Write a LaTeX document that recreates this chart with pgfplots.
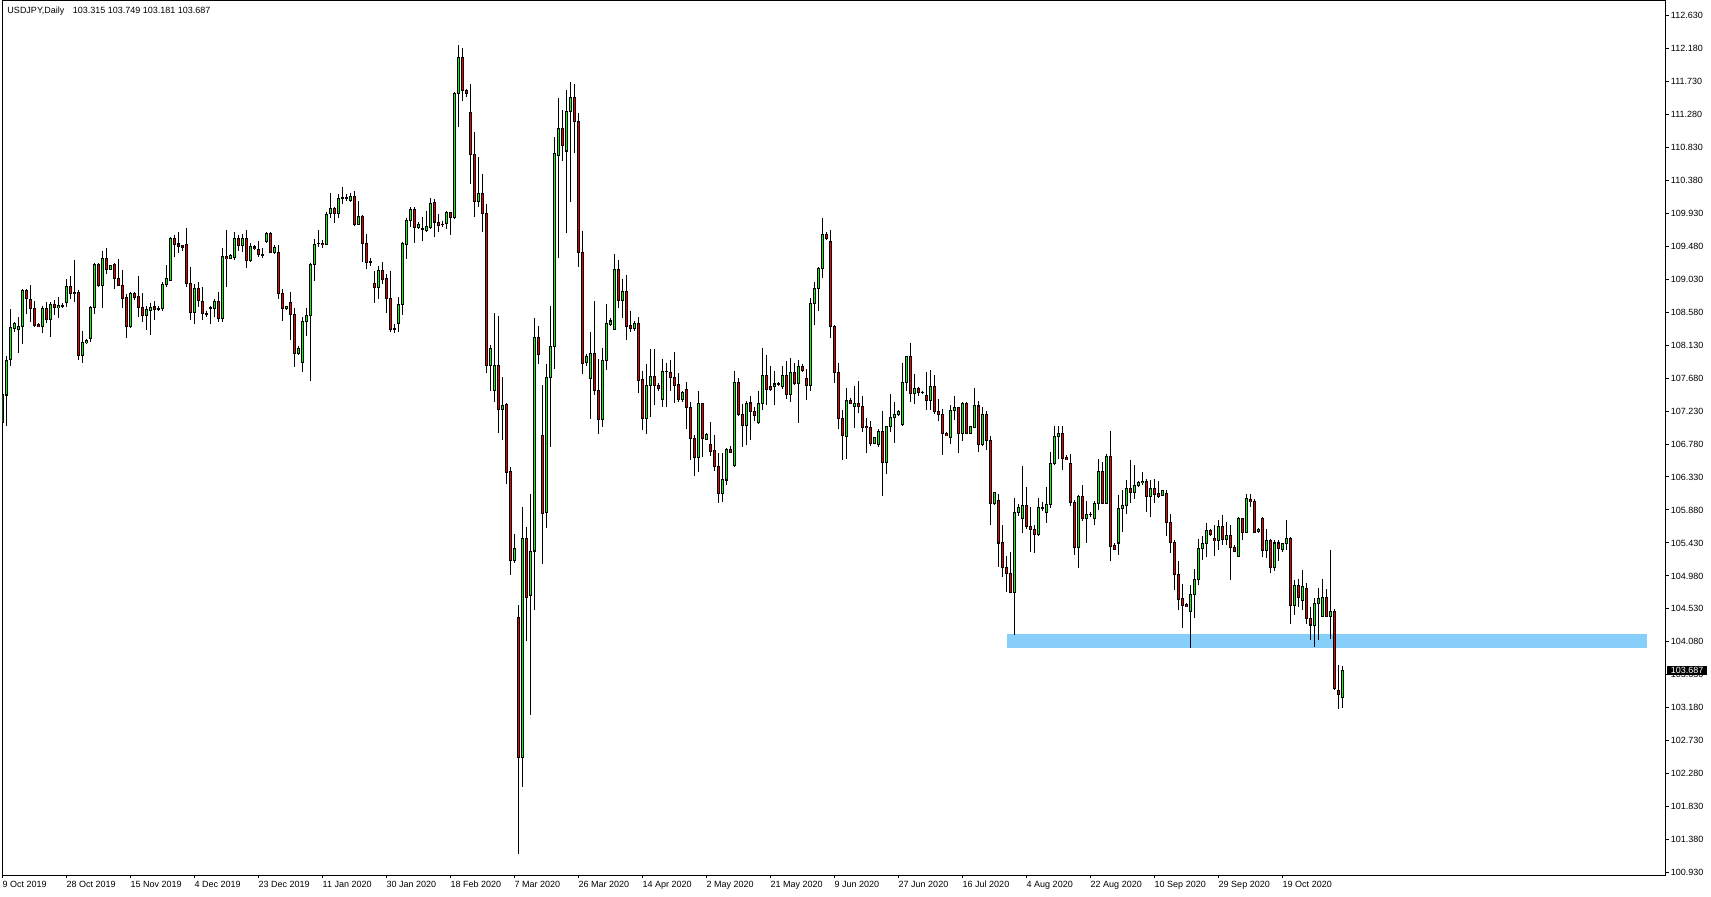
\documentclass[border=0pt]{standalone}
\usepackage{pgfplots}
\pgfplotsset{compat=1.18}
\usepackage{pgfplotstable}
\usepackage{fontspec}
\setmainfont{Liberation Sans}
\definecolor{bull}{RGB}{0,255,0}
\definecolor{bear}{RGB}{235,0,0}
\definecolor{zone}{RGB}{135,206,250}
\newcommand\mtfont{\fontsize{9bp}{10bp}\selectfont}

\pgfplotstableread{
o h l c
107.08 107.63 106.93 107.45
107.45 107.98 107.03 107.92
107.93 108.63 107.84 108.37
108.36 108.45 108.31 108.42
108.34 108.52 108.02 108.39
108.39 108.90 108.14 108.88
108.88 108.89 108.56 108.76
108.76 108.95 108.44 108.63
108.63 108.73 108.38 108.40
108.41 108.43 108.38 108.38
108.39 108.66 108.29 108.63
108.63 108.72 108.43 108.48
108.48 108.72 108.24 108.69
108.69 108.74 108.54 108.64
108.64 108.78 108.50 108.67
108.67 108.70 108.64 108.67
108.71 109.04 108.65 108.93
108.93 109.07 108.76 108.83
108.85 109.29 108.72 108.83
108.85 108.88 107.93 107.99
107.99 108.33 107.89 108.16
108.17 108.22 108.14 108.19
108.22 108.66 108.17 108.64
108.64 109.25 108.55 109.23
109.23 109.25 108.92 108.94
108.94 109.42 108.64 109.31
109.31 109.45 109.10 109.16
109.16 109.23 109.15 109.22
109.23 109.25 108.90 109.04
109.04 109.30 108.95 108.95
108.95 109.15 108.63 108.77
108.78 108.83 108.23 108.38
108.38 108.85 108.37 108.83
108.83 108.85 108.75 108.78
108.79 109.07 108.51 108.64
108.64 108.84 108.44 108.53
108.53 108.67 108.34 108.61
108.61 108.70 108.27 108.65
108.65 108.73 108.48 108.62
108.63 108.66 108.60 108.63
108.63 108.99 108.59 108.96
108.96 109.22 108.92 109.04
109.01 109.61 109.00 109.58
109.58 109.63 109.33 109.51
109.51 109.67 109.39 109.47
109.49 109.50 109.42 109.47
109.51 109.73 108.92 108.97
108.97 109.20 108.47 108.57
108.57 108.97 108.42 108.91
108.91 108.99 108.65 108.74
108.73 108.93 108.48 108.56
108.56 108.60 108.51 108.56
108.64 108.67 108.42 108.64
108.63 108.76 108.51 108.73
108.73 108.86 108.44 108.50
108.50 109.45 108.44 109.34
109.34 109.70 108.92 109.31
109.31 109.37 109.30 109.36
109.32 109.68 109.29 109.58
109.58 109.64 109.42 109.49
109.49 109.64 109.40 109.58
109.58 109.70 109.19 109.29
109.29 109.52 109.26 109.47
109.47 109.50 109.43 109.45
109.43 109.55 109.34 109.37
109.36 109.45 109.32 109.36
109.55 109.68 109.52 109.66
109.66 109.67 109.39 109.40
109.40 109.49 109.38 109.46
109.39 109.49 108.76 108.83
108.83 108.90 108.46 108.63
108.63 108.67 108.61 108.66
108.71 108.86 108.20 108.55
108.55 108.64 107.83 108.01
108.01 108.12 108.00 108.09
107.89 108.51 107.76 108.45
108.45 108.63 108.25 108.53
108.53 109.25 107.64 109.23
109.23 109.58 109.00 109.51
109.52 109.70 109.47 109.52
109.52 109.56 109.46 109.50
109.51 109.95 109.49 109.92
109.92 110.21 109.86 109.99
109.99 110.01 109.79 109.92
109.92 110.19 109.86 110.13
110.14 110.29 110.05 110.14
110.14 110.20 110.10 110.14
110.10 110.21 110.09 110.16
110.16 110.23 109.76 109.78
109.78 110.10 109.77 109.88
109.88 109.90 109.27 109.52
109.52 109.65 109.17 109.26
109.26 109.32 109.21 109.27
108.97 109.14 108.71 108.92
108.92 109.21 108.76 109.15
109.15 109.27 108.97 109.03
109.04 109.10 108.57 108.77
108.77 109.14 108.31 108.35
108.35 108.42 108.30 108.35
108.43 108.79 108.31 108.68
108.68 109.54 108.54 109.52
109.50 109.87 109.30 109.83
109.83 110.01 109.74 109.98
109.98 110.01 109.52 109.74
109.74 109.81 109.71 109.78
109.72 109.88 109.55 109.72
109.69 109.96 109.67 109.75
109.74 110.14 109.71 110.07
110.07 110.12 109.61 109.81
109.81 109.92 109.68 109.77
109.78 109.82 109.74 109.78
109.79 109.96 109.72 109.94
109.94 109.95 109.63 109.87
109.87 111.58 109.85 111.57
111.57 112.23 111.11 112.06
112.06 112.18 111.46 111.60
111.60 111.62 111.51 111.56
111.31 111.69 110.33 110.73
110.73 111.04 109.88 110.09
110.09 110.70 110.01 110.20
110.20 110.47 109.68 109.93
109.93 110.06 107.75 107.85
107.85 108.13 107.51 108.08
107.51 108.57 107.36 107.85
107.85 108.53 106.93 107.25
107.25 107.69 106.83 107.31
107.32 107.34 106.23 106.39
106.40 106.47 105.00 105.19
105.19 105.55 105.15 105.35
104.42 104.58 101.18 102.50
102.50 105.92 102.10 105.49
105.49 105.65 104.09 104.69
104.71 106.10 103.08 105.32
105.32 108.50 104.52 108.23
108.23 108.39 107.87 108.00
106.90 107.58 105.14 105.83
105.84 107.87 105.63 107.69
107.69 108.67 106.74 108.11
108.11 110.97 107.81 110.74
110.72 111.51 109.32 111.09
111.09 111.34 110.64 110.85
110.78 111.61 109.66 111.32
111.32 111.72 110.09 111.51
111.51 111.69 110.75 111.18
111.18 111.30 109.19 109.39
109.40 109.69 107.74 107.88
107.89 108.01 107.85 107.98
107.67 108.31 107.12 108.01
108.01 108.73 107.45 107.51
107.51 107.94 106.92 107.12
107.12 108.09 107.01 107.92
107.92 108.69 107.79 108.43
108.41 108.50 108.39 108.46
108.34 109.37 108.34 109.16
109.16 109.29 108.64 108.74
108.74 109.03 108.50 108.86
108.86 109.08 108.20 108.39
108.40 108.60 108.31 108.36
108.36 108.46 108.32 108.43
108.43 108.52 107.48 107.65
107.66 107.77 106.97 107.13
107.13 107.87 106.92 107.58
107.58 108.08 107.15 107.70
107.70 108.08 107.31 107.58
107.58 107.62 107.51 107.54
107.39 107.94 107.28 107.77
107.77 107.89 107.28 107.77
107.76 107.93 107.51 107.69
107.69 108.04 107.34 107.58
107.59 107.75 107.36 107.39
107.39 107.50 107.36 107.48
107.53 107.62 106.98 107.28
107.28 107.35 106.56 106.85
106.85 106.90 106.35 106.60
106.60 107.50 106.40 107.33
107.33 107.33 106.60 106.85
106.84 106.93 106.83 106.91
106.77 107.08 106.62 106.68
106.69 106.90 106.41 106.48
106.48 106.66 105.97 106.11
106.11 106.66 105.99 106.29
106.29 106.72 106.22 106.70
106.70 106.75 106.66 106.67
106.49 107.77 106.47 107.62
107.62 107.68 107.16 107.19
107.19 107.33 106.74 107.03
107.03 107.37 106.76 107.34
107.34 107.43 106.84 107.23
107.23 107.28 107.10 107.17
107.08 107.51 107.05 107.33
107.33 108.09 107.24 107.72
107.72 107.99 107.32 107.53
107.57 107.85 107.50 107.53
107.56 107.77 107.31 107.60
107.60 107.63 107.57 107.60
107.56 107.84 107.53 107.71
107.71 107.92 107.39 107.46
107.46 107.95 107.35 107.75
107.75 107.88 107.58 107.61
107.61 107.93 107.07 107.84
107.84 107.87 107.76 107.78
107.67 107.81 107.38 107.58
107.58 108.78 107.50 108.70
108.70 108.99 108.41 108.90
108.90 109.20 108.60 109.17
109.17 109.86 109.05 109.64
109.64 109.68 109.57 109.58
109.54 109.70 108.23 108.39
108.39 108.40 107.61 107.76
107.76 107.88 106.99 107.13
107.13 107.24 106.56 106.89
106.89 107.55 106.57 107.37
107.38 107.41 107.33 107.34
107.29 107.57 107.00 107.33
107.33 107.64 107.21 107.29
107.29 107.44 106.94 107.01
107.02 107.13 106.66 107.00
107.00 107.10 106.75 106.79
106.79 106.88 106.78 106.87
106.77 106.98 106.74 106.95
106.95 107.23 106.07 106.53
106.53 107.03 106.37 107.02
107.02 107.46 106.94 107.14
107.14 107.36 106.79 107.18
107.18 107.24 107.16 107.22
107.05 107.89 107.03 107.62
107.62 107.98 107.51 107.97
107.97 108.16 107.35 107.47
107.47 107.73 107.33 107.54
107.54 107.56 107.43 107.48
107.49 107.51 107.47 107.49
107.44 107.77 107.25 107.37
107.37 107.79 107.24 107.56
107.56 107.72 107.19 107.22
107.22 107.40 107.09 107.18
107.18 107.26 106.63 106.92
106.92 106.94 106.90 106.90
106.87 107.31 106.78 107.24
107.24 107.43 107.11 107.28
107.28 107.29 106.66 106.93
106.93 107.36 106.82 107.33
107.33 107.36 106.91 106.93
106.93 107.03 106.92 107.02
107.01 107.54 107.00 107.30
107.30 107.37 106.67 106.78
106.78 107.29 106.76 107.18
107.18 107.23 106.70 106.83
106.83 106.89 105.68 105.97
105.97 106.13 105.95 106.12
106.01 106.10 105.10 105.43
105.43 105.68 104.96 105.09
105.09 105.25 104.76 105.02
105.02 105.31 104.74 104.75
104.75 106.05 104.18 105.85
105.85 105.96 105.80 105.92
105.76 106.48 105.57 105.94
105.94 106.20 105.62 105.65
105.66 105.92 105.31 105.62
105.62 105.68 105.29 105.54
105.54 106.05 105.53 105.91
105.91 105.99 105.87 105.91
105.84 106.20 105.70 105.95
105.95 106.67 105.91 106.51
106.51 107.02 106.50 106.88
106.88 107.03 106.57 106.92
106.92 107.03 106.42 106.58
106.59 106.63 106.56 106.57
106.51 106.65 105.93 105.98
105.98 106.01 105.27 105.37
105.37 106.09 105.09 106.07
106.07 106.22 105.73 105.76
105.76 106.00 105.43 105.82
105.82 105.85 105.79 105.82
105.76 106.00 105.67 105.97
105.97 106.57 105.88 106.41
106.41 106.53 105.96 105.97
105.97 106.65 105.96 106.61
106.61 106.96 105.19 105.38
105.40 105.43 105.33 105.34
105.43 106.09 105.27 105.90
105.90 106.15 105.58 105.94
105.94 106.29 105.83 106.17
106.17 106.56 105.97 106.12
106.12 106.50 106.03 106.22
106.22 106.28 106.20 106.25
106.25 106.40 106.22 106.27
106.27 106.31 105.85 106.06
106.06 106.29 105.78 106.18
106.18 106.31 105.97 106.09
106.10 106.27 106.05 106.07
106.08 106.16 106.07 106.15
106.10 106.16 105.53 105.71
105.71 105.82 105.29 105.43
105.44 105.47 104.79 105.00
105.00 105.18 104.52 104.66
104.67 104.87 104.27 104.58
104.59 104.61 104.55 104.56
104.50 104.86 104.00 104.72
104.72 105.08 104.40 104.93
104.93 105.49 104.86 105.36
105.36 105.52 105.20 105.42
105.42 105.70 105.24 105.60
105.60 105.62 105.52 105.54
105.49 105.68 105.25 105.46
105.46 105.75 105.33 105.66
105.66 105.81 105.40 105.48
105.48 105.72 105.40 105.53
105.53 105.67 104.93 105.37
105.37 105.40 105.31 105.32
105.25 105.79 105.24 105.76
105.76 105.77 105.47 105.57
105.57 106.10 105.56 106.03
106.03 106.10 105.92 105.99
106.00 106.03 105.56 105.58
105.58 105.63 105.57 105.62
105.77 105.79 105.24 105.33
105.33 105.62 105.23 105.47
105.47 105.49 105.02 105.10
105.10 105.47 105.05 105.43
105.43 105.47 105.18 105.36
105.34 105.43 105.31 105.42
105.42 105.74 105.33 105.49
105.49 105.51 104.32 104.57
104.58 104.93 104.45 104.85
104.85 104.94 104.56 104.68
104.65 105.06 104.52 104.83
104.81 104.89 104.32 104.40
104.40 104.56 104.10 104.31
104.31 104.68 104.01 104.60
104.60 104.81 104.10 104.67
104.43 104.94 104.42 104.69
104.69 104.80 104.42 104.43
104.43 105.34 104.12 104.50
104.49 104.53 103.42 103.44
103.42 103.76 103.17 103.36
103.315 103.749 103.181 103.687
}\ohlc

\begin{document}
\begin{tikzpicture}[x=1bp,y=1bp]
\useasboundingbox (0,0) rectangle (1711,896);
\fill[white] (0,0) rectangle (1711,896);
\begin{axis}[
  at={(2.5bp,20.5bp)}, anchor=south west,
  width=1663bp, height=875bp, scale only axis,
  xmin=0, xmax=415.75,
  ymin=100.8926, ymax=112.8347,
  axis line style={black, line width=1bp},
  tick style={black, line width=1bp},
  major tick length=3bp, tick align=outside,
  xtick pos=left, ytick pos=right, yticklabel pos=right,
  xtick={0,16,...,320},
  xticklabels={9 Oct 2019, 28 Oct 2019, 15 Nov 2019, 4 Dec 2019, 23 Dec 2019, 11 Jan 2020, 30 Jan 2020, 18 Feb 2020, 7 Mar 2020, 26 Mar 2020, 14 Apr 2020, 2 May 2020, 21 May 2020, 9 Jun 2020, 27 Jun 2020, 16 Jul 2020, 4 Aug 2020, 22 Aug 2020, 10 Sep 2020, 29 Sep 2020, 19 Oct 2020},
  xticklabel style={anchor=north west, inner sep=0pt, font=\mtfont},
  xticklabel shift=2.5bp,
  ytick={100.93,101.38,101.83,102.28,102.73,103.18,103.63,104.08,104.53,104.98,105.43,105.88,106.33,106.78,107.23,107.68,108.13,108.58,109.03,109.48,109.93,110.38,110.83,111.28,111.73,112.18,112.63},
  yticklabel style={anchor=west, inner sep=0pt, font=\mtfont,
    /pgf/number format/.cd, fixed, fixed zerofill, precision=3, 1000 sep={}, assume math mode=true},
  yticklabel shift=2.2bp,
  scaled y ticks=false,
]
% support zone
\addplot[fill=zone, draw=none, forget plot] coordinates {(251.1,104.002) (411,104.002) (411,104.189) (251.1,104.189)} -- cycle;
% wicks
\addplot[draw=none, mark=none, forget plot,
  error bars/.cd, y dir=both, y explicit, error mark=none,
  error bar style={draw=black, line width=1bp}]
  table[x expr=\coordindex, y expr={(\thisrow{h}+\thisrow{l})/2}, y error expr={(\thisrow{h}-\thisrow{l})/2}] {\ohlc};
% body outlines
\addplot[draw=none, mark=none, forget plot,
  error bars/.cd, y dir=both, y explicit, error mark=none,
  error bar style={draw=black, line width=3.2bp}]
  table[x expr=\coordindex, y expr={(\thisrow{o}+\thisrow{c})/2}, y error expr={abs(\thisrow{o}-\thisrow{c})/2+0.007}] {\ohlc};
% bull bodies
\addplot[draw=none, mark=none, forget plot,
  error bars/.cd, y dir=both, y explicit, error mark=none,
  error bar style={draw=bull, line width=1.3bp}]
  table[x expr=\coordindex, y expr={\thisrow{c}>\thisrow{o}+0.015 ? (\thisrow{o}+\thisrow{c})/2 : 0}, y error expr={max(abs(\thisrow{o}-\thisrow{c})/2-0.007,0)}] {\ohlc};
% bear bodies
\addplot[draw=none, mark=none, forget plot,
  error bars/.cd, y dir=both, y explicit, error mark=none,
  error bar style={draw=bear, line width=1.3bp}]
  table[x expr=\coordindex, y expr={\thisrow{o}>\thisrow{c}+0.015 ? (\thisrow{o}+\thisrow{c})/2 : 0}, y error expr={max(abs(\thisrow{o}-\thisrow{c})/2-0.007,0)}] {\ohlc};
\end{axis}
\node[anchor=base west, inner sep=0pt, font=\mtfont] at (7.3,882.3) {USDJPY,Daily\hspace{6bp} 103.315 103.749 103.181 103.687};
\node[fill=black, text=white, inner sep=0pt, minimum width=40bp, minimum height=9.4bp, anchor=west, font=\mtfont] at (1667,225.4) {103.687};
\end{tikzpicture}
\end{document}
